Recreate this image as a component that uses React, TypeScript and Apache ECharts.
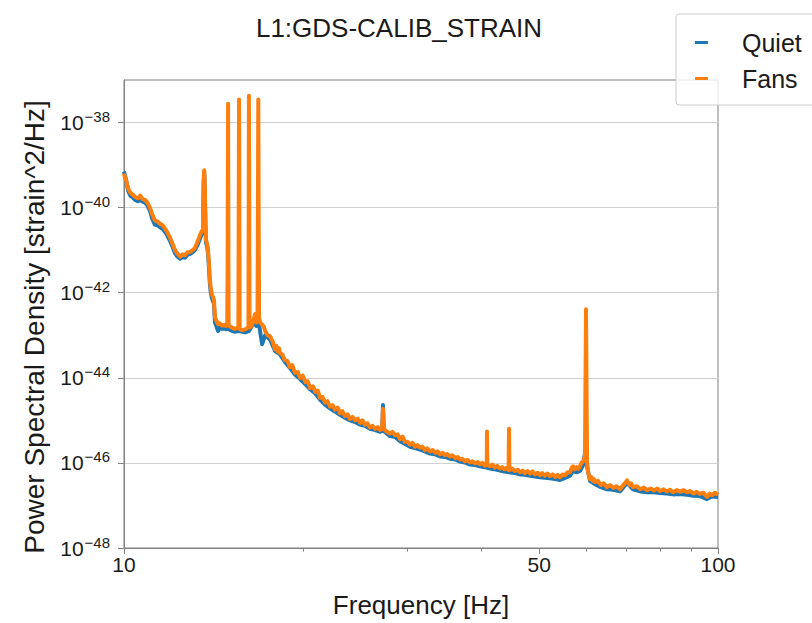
import React, { useEffect, useRef } from "react";
import * as echarts from "echarts";

// [frequency in Hz, log10 of PSD in strain^2/Hz]
const fansPoints = [
  [10.0, -39.2], [10.02, -39.25], [10.08, -39.35], [10.16, -39.55], [10.25, -39.65], [10.35, -39.7], [10.44, -39.75],
  [10.55, -39.78], [10.65, -39.72], [10.75, -39.8], [10.85, -39.82], [10.95, -39.88], [11.06, -40.0], [11.15, -40.15],
  [11.27, -40.3], [11.4, -40.33], [11.5, -40.38], [11.63, -40.42], [11.8, -40.55], [11.95, -40.7], [12.07, -40.85],
  [12.19, -41.0], [12.3, -41.08], [12.42, -41.15], [12.55, -41.1], [12.67, -41.12], [12.8, -41.05], [12.91, -41.04],
  [13.05, -41.0], [13.16, -40.95], [13.3, -40.8], [13.43, -40.64], [13.52, -40.55], [13.58, -40.55], [13.62, -39.3],
  [13.65, -39.12], [13.68, -39.5], [13.71, -40.3], [13.74, -40.76], [13.8, -40.85], [13.85, -41.0], [13.9, -41.3],
  [13.95, -41.7], [14.0, -41.9], [14.06, -42.04], [14.12, -42.1], [14.17, -42.16], [14.23, -42.58], [14.3, -42.65],
  [14.4, -42.74], [14.5, -42.72], [14.62, -42.77], [14.75, -42.76], [14.85, -42.78], [14.92, -42.7], [14.94, -41.6],
  [14.97, -37.56], [15.0, -42.75], [15.1, -42.8], [15.2, -42.82], [15.37, -42.85], [15.5, -42.83], [15.58, -42.8],
  [15.62, -37.46], [15.66, -42.85], [15.8, -42.88], [15.98, -42.86], [16.1, -42.84], [16.2, -42.8], [16.23, -37.37],
  [16.27, -42.82], [16.4, -42.78], [16.55, -42.6], [16.62, -42.5], [16.7, -42.7], [16.78, -42.6], [16.83, -37.46],
  [16.88, -42.6], [16.95, -42.7], [17.08, -42.75], [17.2, -42.8], [17.28, -42.9], [17.45, -43.0], [17.61, -43.02],
  [17.8, -43.15], [17.96, -43.33], [18.05, -43.25], [18.15, -43.38], [18.23, -43.3], [18.31, -43.42], [18.48, -43.45],
  [18.65, -43.58], [18.84, -43.6], [19.03, -43.75], [19.2, -43.7], [19.4, -43.88], [19.6, -43.86], [19.79, -44.0],
  [20.0, -43.95], [20.2, -44.1], [20.38, -44.08], [20.57, -44.24], [20.8, -44.2], [21.0, -44.33], [21.2, -44.3],
  [21.38, -44.47], [21.6, -44.45], [21.8, -44.58], [22.0, -44.55], [22.23, -44.68], [22.45, -44.64], [22.65, -44.75],
  [22.9, -44.7], [23.1, -44.83], [23.3, -44.78], [23.55, -44.9], [23.8, -44.86], [24.02, -44.97], [24.25, -44.92],
  [24.5, -45.0], [24.75, -44.96], [24.97, -45.06], [25.2, -45.0], [25.45, -45.1], [25.7, -45.07], [25.95, -45.17],
  [26.2, -45.13], [26.5, -45.2], [26.75, -45.16], [26.98, -45.23], [27.2, -45.2], [27.29, -44.73], [27.38, -45.2],
  [27.6, -45.25], [28.04, -45.31], [28.3, -45.27], [28.6, -45.35], [28.9, -45.33], [29.15, -45.44], [29.45, -45.38],
  [29.7, -45.5], [30.0, -45.5], [30.3, -45.57], [30.6, -45.53], [30.9, -45.62], [31.2, -45.58], [31.5, -45.64],
  [31.8, -45.62], [32.1, -45.7], [32.4, -45.66], [32.74, -45.73], [33.1, -45.7], [33.4, -45.76], [33.7, -45.73],
  [34.04, -45.8], [34.4, -45.76], [34.7, -45.82], [35.0, -45.79], [35.38, -45.85], [35.7, -45.82], [36.1, -45.89],
  [36.45, -45.86], [36.79, -45.92], [37.1, -45.9], [37.5, -45.96], [37.9, -45.93], [38.24, -45.99], [38.6, -45.96],
  [39.0, -46.01], [39.4, -45.98], [39.75, -46.03], [40.1, -46.0], [40.5, -46.06], [40.8, -46.05], [40.84, -45.26],
  [40.9, -46.05], [41.32, -46.08], [41.7, -46.04], [42.1, -46.11], [42.5, -46.07], [42.96, -46.13], [43.3, -46.1],
  [43.7, -46.15], [44.0, -46.12], [44.4, -46.17], [44.48, -45.2], [44.56, -46.17], [45.0, -46.13], [45.5, -46.19],
  [46.0, -46.16], [46.42, -46.22], [46.9, -46.18], [47.3, -46.24], [47.8, -46.19], [48.25, -46.25], [48.7, -46.2],
  [49.2, -46.27], [49.7, -46.23], [50.16, -46.29], [50.6, -46.24], [51.1, -46.3], [51.6, -46.25], [52.14, -46.31],
  [52.7, -46.27], [53.2, -46.33], [53.7, -46.28], [54.2, -46.34], [54.7, -46.27], [55.3, -46.29], [55.8, -46.22],
  [56.35, -46.22], [56.7, -46.12], [57.01, -46.08], [57.4, -46.15], [57.8, -46.1], [58.2, -46.14], [58.57, -46.08],
  [58.9, -46.0], [59.26, -45.97], [59.7, -45.85], [59.95, -42.39], [60.2, -46.0], [60.5, -46.25], [60.88, -46.38],
  [61.2, -46.33], [61.5, -46.42], [61.8, -46.38], [62.08, -46.45], [62.8, -46.42], [63.5, -46.52], [64.2, -46.48],
  [65.03, -46.57], [65.8, -46.52], [66.7, -46.59], [67.5, -46.55], [68.39, -46.62], [69.0, -46.55], [69.5, -46.5],
  [70.29, -46.41], [71.0, -46.52], [71.4, -46.48], [71.94, -46.57], [73.0, -46.55], [74.0, -46.62], [75.0, -46.58],
  [75.94, -46.64], [77.0, -46.6], [78.0, -46.65], [79.0, -46.6], [79.88, -46.66], [81.0, -46.62], [82.0, -46.67],
  [83.0, -46.63], [84.01, -46.69], [85.2, -46.64], [86.3, -46.68], [87.5, -46.64], [88.66, -46.69], [89.8, -46.66],
  [91.0, -46.72], [92.1, -46.68], [93.26, -46.73], [94.5, -46.7], [95.83, -46.8], [96.8, -46.72], [97.7, -46.76],
  [98.8, -46.7], [100.0, -46.75],
];

const quietPoints = [
  [10.0, -39.15], [10.02, -39.2], [10.08, -39.35], [10.16, -39.6], [10.25, -39.72], [10.35, -39.76], [10.44, -39.82],
  [10.55, -39.85], [10.65, -39.82], [10.75, -39.86], [10.85, -39.88], [10.95, -39.95], [11.06, -40.08], [11.15, -40.25],
  [11.27, -40.4], [11.4, -40.42], [11.5, -40.46], [11.63, -40.5], [11.8, -40.63], [11.95, -40.78], [12.07, -40.92],
  [12.19, -41.07], [12.3, -41.15], [12.42, -41.2], [12.55, -41.16], [12.67, -41.18], [12.8, -41.1], [12.91, -41.09],
  [13.05, -41.05], [13.16, -41.0], [13.3, -40.88], [13.43, -40.72], [13.52, -40.62], [13.58, -40.6], [13.62, -39.4],
  [13.65, -39.2], [13.68, -39.6], [13.71, -40.4], [13.74, -40.82], [13.8, -40.92], [13.85, -41.08], [13.9, -41.4],
  [13.95, -41.8], [14.0, -42.0], [14.06, -42.12], [14.12, -42.2], [14.17, -42.25], [14.23, -42.7], [14.3, -42.78],
  [14.4, -42.9], [14.5, -42.82], [14.62, -42.85], [14.75, -42.84], [14.85, -42.86], [14.97, -42.84], [15.1, -42.88],
  [15.37, -42.92], [15.6, -42.9], [15.98, -42.93], [16.23, -42.9], [16.55, -42.7], [16.7, -42.78], [16.88, -42.75],
  [17.08, -43.21], [17.28, -43.0], [17.61, -43.1], [17.96, -43.37], [18.31, -43.45], [18.65, -43.62], [19.03, -43.77],
  [19.4, -43.92], [19.79, -44.03], [20.2, -44.15], [20.57, -44.27], [21.0, -44.37], [21.38, -44.51], [21.8, -44.63],
  [22.23, -44.72], [22.65, -44.79], [23.1, -44.87], [23.55, -44.94], [24.02, -45.0], [24.5, -45.04], [24.97, -45.1],
  [25.45, -45.13], [25.95, -45.2], [26.5, -45.23], [26.98, -45.27], [27.2, -45.25], [27.29, -44.64], [27.38, -45.25],
  [28.04, -45.37], [28.6, -45.39], [29.15, -45.49], [29.7, -45.55], [30.3, -45.62], [30.9, -45.65], [31.5, -45.69],
  [32.1, -45.73], [32.74, -45.78], [33.4, -45.8], [34.04, -45.85], [34.7, -45.86], [35.38, -45.9], [36.1, -45.92],
  [36.79, -45.97], [37.5, -45.99], [38.24, -46.04], [39.0, -46.05], [39.75, -46.08], [40.5, -46.1], [41.32, -46.13],
  [42.1, -46.15], [42.96, -46.18], [43.7, -46.2], [44.48, -46.22], [45.5, -46.24], [46.42, -46.27], [47.3, -46.28],
  [48.25, -46.3], [49.2, -46.32], [50.16, -46.34], [51.1, -46.35], [52.14, -46.36], [53.2, -46.38], [54.2, -46.4],
  [55.3, -46.35], [56.35, -46.3], [57.01, -46.19], [57.8, -46.22], [58.57, -46.19], [59.26, -46.05], [59.8, -45.73],
  [60.2, -46.09], [60.88, -46.42], [62.08, -46.5], [63.5, -46.57], [65.03, -46.62], [66.7, -46.63], [68.39, -46.67],
  [70.29, -46.47], [71.94, -46.62], [74.0, -46.67], [75.94, -46.69], [78.0, -46.69], [79.88, -46.71], [82.0, -46.72],
  [84.01, -46.74], [86.3, -46.73], [88.66, -46.75], [91.0, -46.77], [93.26, -46.78], [95.83, -46.85], [97.7, -46.79],
  [100.0, -46.8],
];

// Axis ticks: frequencies in Hz, PSD decades as exponents of ten
const xLabelTicks = [10, 50, 100];
const xMinorTicks = [20, 30, 40, 60, 70, 80, 90];
const yTickExponents = [-48, -46, -44, -42, -40, -38];
const yMinExp = -48;
const yMaxExp = -37;

const FONT = "'Liberation Sans', Arial, Helvetica, sans-serif";
const INK = "#1a1a1a";

// Both axes are drawn on decade (log10) coordinates
const toDecades = (pts: number[][]) => pts.map(([f, lg]) => [Math.log10(f), lg]);

export default function App() {
  const ref = useRef<HTMLDivElement>(null);
  useEffect(() => {
    if (!ref.current) return;
    const chart = echarts.init(ref.current, undefined, { renderer: "svg" });
    const axisLineStyle = { color: "#808080", width: 1 };
    const xMajor = xLabelTicks.map((v) => Math.log10(v));
    const xMinor = xMinorTicks.map((v) => Math.log10(v));
    chart.setOption({
      animation: false,
      backgroundColor: "#fff",
      textStyle: { fontFamily: FONT },
      title: {
        text: "L1:GDS-CALIB_STRAIN",
        left: 394,
        textAlign: "center",
        top: 10,
        textStyle: { fontFamily: FONT, fontSize: 26, fontWeight: "normal", color: INK },
      },
      legend: {
        orient: "vertical",
        left: 676,
        top: 14,
        padding: [16, 30, 14, 19],
        itemGap: 11,
        itemWidth: 13,
        itemHeight: 3,
        icon: "rect",
        backgroundColor: "rgba(255,255,255,0.8)",
        borderColor: "#cccccc",
        borderWidth: 1,
        borderRadius: 3,
        textStyle: { fontFamily: FONT, fontSize: 25, color: INK, padding: [0, 0, 0, 29] },
        data: ["Quiet", "Fans"],
      },
      grid: {
        left: 124,
        right: 94,
        top: 80,
        bottom: 73,
        show: true,
        borderColor: "#808080",
        borderWidth: 1,
        backgroundColor: "transparent",
      },
      xAxis: [
        {
          type: "value",
          min: 1,
          max: 2,
          name: "Frequency [Hz]",
          nameLocation: "middle",
          nameGap: 44,
          nameTextStyle: { fontFamily: FONT, fontSize: 26, color: INK },
          axisLine: { show: true, onZero: false, lineStyle: axisLineStyle },
          axisTick: { show: true, length: 6, lineStyle: axisLineStyle, customValues: xMajor },
          axisLabel: {
            customValues: xMajor,
            fontFamily: FONT,
            fontSize: 21,
            color: INK,
            margin: 6,
            formatter: (v: number) => String(Math.round(Math.pow(10, v))),
          },
          splitLine: { show: false },
        },
        {
          type: "value",
          min: 1,
          max: 2,
          position: "bottom",
          axisLine: { show: false, onZero: false },
          axisTick: { show: true, length: 3.5, lineStyle: axisLineStyle, customValues: xMinor },
          axisLabel: { show: false },
          splitLine: { show: false },
        },
      ],
      yAxis: {
        type: "value",
        min: yMinExp,
        max: yMaxExp,
        interval: 2,
        name: "Power Spectral Density [strain^2/Hz]",
        nameLocation: "middle",
        nameGap: 76,
        nameTextStyle: { fontFamily: FONT, fontSize: 28, color: INK, padding: [0, 26, 0, 0] },
        axisLine: { show: true, onZero: false, lineStyle: axisLineStyle },
        axisTick: { show: true, length: 6, lineStyle: axisLineStyle, customValues: yTickExponents },
        axisLabel: {
          customValues: yTickExponents,
          margin: 14,
          color: INK,
          formatter: (v: number) => `{b|10}{s|\u2212${Math.abs(Math.round(v))}}`,
          rich: {
            b: { fontFamily: FONT, fontSize: 21, color: INK },
            s: { fontFamily: FONT, fontSize: 15, color: INK, padding: [0, 0, 12, 1] },
          },
        },
        splitLine: { show: true, lineStyle: { color: "#d0d0d0", width: 1 } },
      },
      series: [
        {
          name: "Quiet",
          type: "line",
          data: toDecades(quietPoints),
          showSymbol: false,
          symbol: "none",
          color: "#1f77b4",
          lineStyle: { width: 4, color: "#1f77b4", join: "round" },
          z: 2,
        },
        {
          name: "Fans",
          type: "line",
          data: toDecades(fansPoints),
          showSymbol: false,
          symbol: "none",
          color: "#ff7f0e",
          lineStyle: { width: 4, color: "#ff7f0e", join: "round" },
          z: 3,
        },
      ],
    });
    return () => chart.dispose();
  }, []);
  return <div ref={ref} style={{ width: 812, height: 623, position: "absolute", left: 0, top: 0 }} />;
}
